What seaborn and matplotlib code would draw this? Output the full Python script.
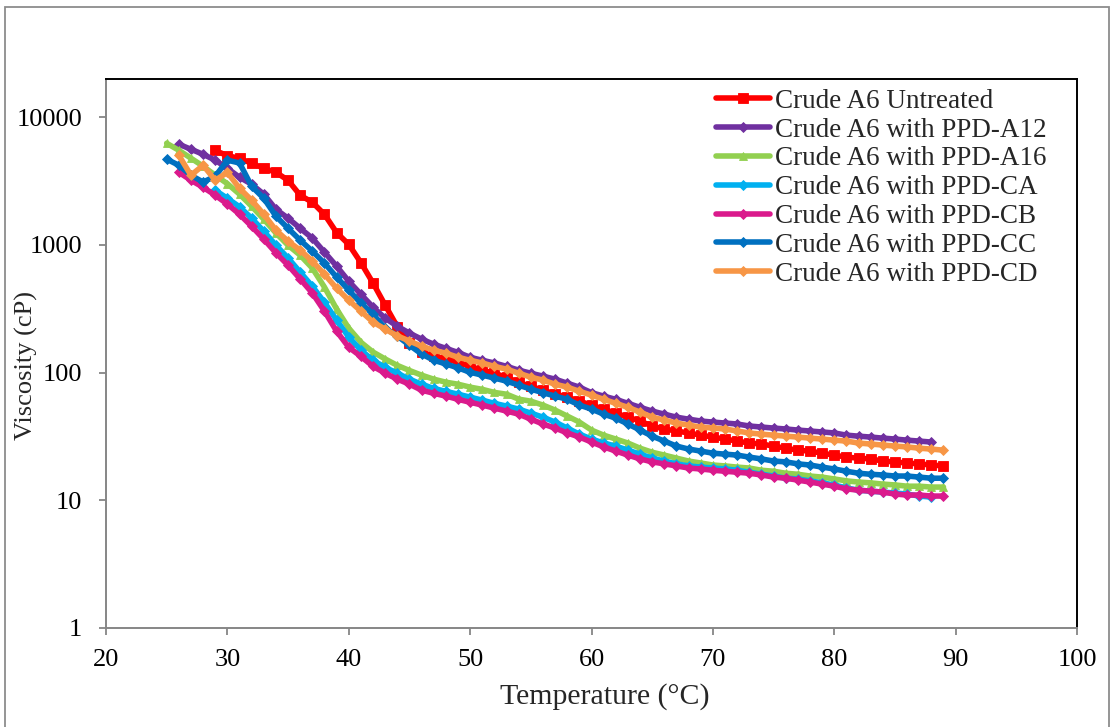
import matplotlib
matplotlib.use("Agg")
import matplotlib.pyplot as plt
import seaborn as sns
from matplotlib.patches import Rectangle
from matplotlib.ticker import FixedLocator, FixedFormatter, NullLocator

# ---------------- data ----------------
labels = ["Crude A6 Untreated", "Crude A6 with PPD-A12", "Crude A6 with PPD-A16",
          "Crude A6 with PPD-CA", "Crude A6 with PPD-CB", "Crude A6 with PPD-CC",
          "Crude A6 with PPD-CD"]

temp_untreated = list(range(29, 90))
visc_untreated = [5500, 5000, 4780, 4360, 3990, 3710, 3210, 2450, 2160, 1735, 1250, 1010, 727, 503,
                  338, 229, 170, 145, 135, 128, 121, 112,
                  104.6, 99, 92, 84, 78, 73, 68, 64.5, 59.8, 55.7,
                  51.8, 48.2, 44.8, 41.8, 38.1, 36.2, 34.9, 33.7, 32.4, 31.3,
                  30.2, 29.1, 28.1, 27.6, 26.6, 25.6, 24.7, 24.3, 23.4, 22.6,
                  21.8, 21.4, 21.1, 20.3, 20.0, 19.6, 19.3, 18.9, 18.6]

temp_a12 = list(range(26, 89))
visc_a12 = [6150, 5620, 5130, 4610, 3990, 3390, 2990, 2500, 1905, 1620, 1350, 1130, 878, 682,
            520, 411, 326, 267, 231, 204, 183, 167, 155, 144, 132,
            125, 119, 112, 104.6, 99, 93.9, 88.9, 82.7, 77.0, 69.7,
            65.5, 61.8, 57.5, 53.5, 50.0, 47.3, 44.8, 43.2, 41.8, 41.0,
            40.3, 39.6, 38.2, 37.5, 36.8, 36.2, 35.5, 34.9, 34.3, 33.7,
            32.4, 31.8, 31.3, 30.7, 30.2, 29.6, 29.1, 28.6]

temp_a16 = list(range(25, 90))
visc_a16 = [6260, 5515, 4780, 4140, 3516, 3020, 2500, 2010, 1590, 1240, 995, 831, 658, 467,
            315, 223, 173, 145, 128, 114, 104, 95.6, 88.9, 84.2, 81.2, 77.0,
            74, 70, 67.8, 62, 59.8, 55.7, 50.9, 45.7, 41.0, 35.5,
            32.4, 30.2, 28.1, 25.6, 23.8, 22.6, 21.4, 20.3, 19.6, 18.9,
            18.6, 18.2, 17.9, 17.2, 16.9, 16.3, 16.0, 15.5, 15.2, 14.7,
            14.2, 13.9, 13.7, 13.4, 13.2, 12.9, 12.9, 12.7, 12.7]

temp_ca = list(range(29, 89))
visc_ca = [2683, 2320, 1990, 1620, 1280, 995, 790, 612, 475, 355, 258, 190, 150, 125,
           110, 99, 88.9, 81.2, 75.2, 71.4, 67.8, 64.3,
           60.9, 57.5, 54.7, 51.8, 48.2, 44.8, 41.0, 36.8, 33.0, 30.2,
           28.1, 26.6, 24.7, 23.0, 21.4, 20.3, 19.3, 18.6, 18.2, 17.9,
           17.6, 17.2, 16.6, 16.0, 15.5, 14.9, 14.7, 14.2, 13.7, 13.2,
           12.5, 12.0, 11.8, 11.6, 11.4, 11.2, 10.8, 10.6]

temp_cb = list(range(26, 90))
visc_cb = [3710, 3212, 2830, 2452, 2090, 1740, 1400, 1110, 867, 694, 541, 420, 303, 211,
           158, 134, 112, 99, 88.9, 81.2, 72.9, 68.9, 65.5, 61.8, 58.6,
           55.7, 52.7, 50.0, 47.3, 43.2, 39.6, 36.8, 33.7, 31.3, 28.6,
           26.2, 24.3, 22.6, 21.1, 20.0, 19.3, 18.6, 17.9, 17.6, 17.2,
           16.9, 16.6, 16.3, 15.8, 15.2, 14.9, 14.4, 13.9, 13.4, 12.9,
           12.3, 12.0, 11.8, 11.6, 11.2, 11.0, 11.0, 10.8, 10.8]

temp_cc = list(range(25, 90))
visc_cc = [4700, 4210, 3516, 3110, 3450, 4610, 4390, 2880, 2320, 1680, 1350, 1090, 894, 720,
           560, 442, 350, 287, 223, 194, 164, 140, 125, 117, 109, 100.6,
           95.6, 90.6, 85.8, 79.8, 74.2, 69.7, 65.5, 61.8, 55.7, 51.8,
           47.3, 44.0, 39.6, 35.5, 31.8, 29.1, 26.6, 25.2, 24.3, 23.4,
           23.0, 22.6, 21.8, 21.1, 20.3, 20.0, 19.3, 18.9, 18.2, 17.6,
           16.9, 16.3, 16.0, 15.8, 15.5, 15.5, 15.2, 14.9, 14.9]

temp_cd = list(range(26, 90))
visc_cd = [5040, 3516, 4210, 3212, 3700, 2780, 2240, 1740, 1305, 1070, 910, 746, 590, 458,
           369, 303, 249, 219, 194, 177, 161, 150, 142, 132, 125,
           119, 112, 106.5, 99, 92.2, 87.4, 81.2, 77.0, 71.4, 66.7,
           61.8, 57.5, 53.5, 49.1, 44.8, 42.5, 40.3, 38.8, 37.5, 36.8,
           36.2, 34.9, 33.7, 33.0, 32.4, 31.8, 31.3, 30.7, 30.2, 29.6,
           29.1, 28.1, 27.6, 27.1, 26.6, 26.2, 25.6, 25.2, 24.7]

x_ticks = [20, 30, 40, 50, 60, 70, 80, 90, 100]
y_ticks = [1, 10, 100, 1000, 10000]
y_tick_labels = ["1", "10", "100", "1000", "10000"]

# ---------------- styling ----------------
colors = ["#FF0000", "#7030A0", "#92D050", "#00B0F0", "#DA1A8C", "#0070C0", "#F79646"]
markers = ["s", "D", "^", "D", "D", "D", "D"]
msizes = [7.0, 4.6, 5.6, 4.6, 4.6, 4.6, 4.6]

sns.set_style("white")
plt.rcParams["font.family"] = ["Liberation Serif", "DejaVu Serif"]

W, H = 1113, 727
fig = plt.figure(figsize=(W / 100, H / 100), dpi=100)
ax = fig.add_axes([106 / W, (H - 628) / H, 971 / W, 549 / H])

series = [(temp_untreated, visc_untreated), (temp_a12, visc_a12), (temp_a16, visc_a16),
          (temp_ca, visc_ca), (temp_cb, visc_cb), (temp_cc, visc_cc), (temp_cd, visc_cd)]

for (t, v), lab, c, m, ms in zip(series, labels, colors, markers, msizes):
    sns.lineplot(x=t, y=v, ax=ax, color=c, marker=m, markersize=ms,
                 markeredgecolor=c, markeredgewidth=0.6, linewidth=4.0,
                 label=lab, estimator=None, sort=False)

ax.set_yscale("log")
ax.set_xlim(20, 100)
ax.set_ylim(1, 10 ** 4.3)
ax.xaxis.set_major_locator(FixedLocator(x_ticks))
ax.yaxis.set_major_locator(FixedLocator(y_ticks))
ax.yaxis.set_major_formatter(FixedFormatter(y_tick_labels))
ax.yaxis.set_minor_locator(NullLocator())

gray = "#868686"
for s in ["left", "bottom"]:
    ax.spines[s].set_color(gray)
    ax.spines[s].set_linewidth(1.4)
for s in ["top", "right"]:
    ax.spines[s].set_color("black")
    ax.spines[s].set_linewidth(1.4)

ax.tick_params(axis="both", which="major", direction="out", length=5, width=1.3,
               color=gray, labelsize=19, labelcolor="black")
ax.tick_params(axis="x", pad=10, top=False, bottom=True)
ax.tick_params(axis="y", pad=12, left=True, right=False)

ax.set_xlabel("Temperature (°C)", fontsize=21.5)
ax.set_ylabel("Viscosity (cP)", fontsize=19)
ax.xaxis.set_label_coords(0.514, -0.100)
ax.xaxis.label.set_verticalalignment("top")
ax.yaxis.set_label_coords(-0.070, 0.479)

handles, labs = ax.get_legend_handles_labels()
ax.legend(handles, labs, loc="upper left", bbox_to_anchor=(0.628, 0.982),
          frameon=False, fontsize=19.5, handlelength=2.0, handletextpad=0.2,
          labelspacing=0.14, borderaxespad=0, borderpad=0, numpoints=1)

fig.patches.append(Rectangle((5 / W, -10 / H), 1104 / W, (H - 7 + 10) / H,
                             transform=fig.transFigure, fill=False,
                             edgecolor="#8C8C8C", linewidth=1.3))

fig.savefig("out.png", dpi=100, facecolor="white")
